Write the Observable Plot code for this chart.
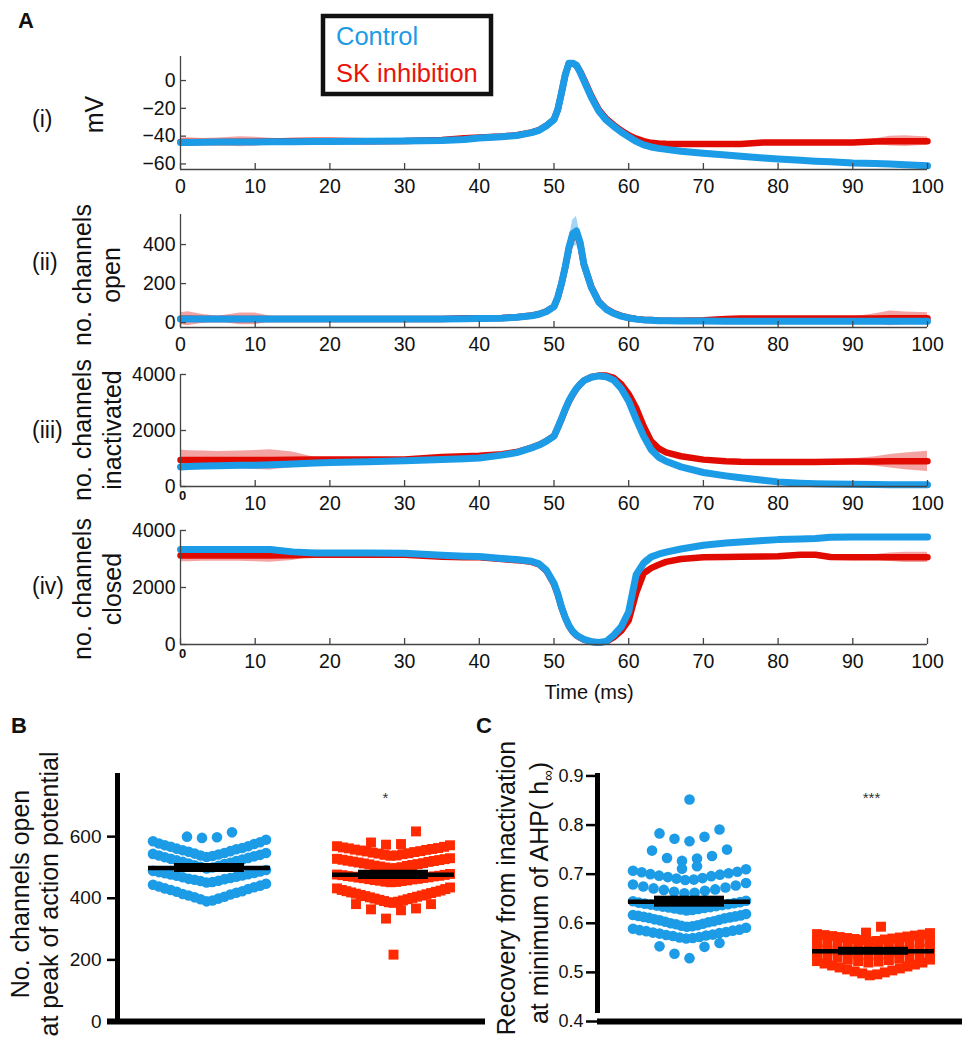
<!DOCTYPE html>
<html><head><meta charset="utf-8">
<script src="https://cdn.jsdelivr.net/npm/d3@7"></script>
<script src="https://cdn.jsdelivr.net/npm/@observablehq/plot@0.6"></script>
<style>
html,body{margin:0;padding:0;background:#fff;}
#root{position:relative;width:962px;height:1040px;overflow:hidden;font-family:"Liberation Sans",Arial,sans-serif;background:#fff;}
.panel{position:absolute;}
#overlay{position:absolute;left:0;top:0;pointer-events:none;}
</style></head><body><div id="root"></div>
<script>
// ---------- DATA ----------
const timeMs = [0,1,3,5,8,10,12,15,18,20, 25,30,35,38,40,43,45,47,48,49, 50,50.5,51,51.5,52,52.5,53,53.5,54,55, 56,57,58,59,60,61,62,63,64,65, 67,70,73,75,78,80,83,85,87,90, 93,95,97,100];
const timeTicks = [0,10,20,30,40,50,60,70,80,90,100];

const vmControl = [-44.5,-44.5,-44.4,-44.3,-44.2,-44.2,-44.1,-44.0,-43.9,-43.8, -43.6,-43.5,-43.2,-42.4,-41.4,-40.4,-39.6,-37.5,-35.8,-32.5, -28,-21,-9,4,12.5,12.5,11,6,0,-12, -22,-28.5,-33,-37,-40.5,-43.8,-46.3,-47.8,-48.8,-49.5, -50.8,-52.3,-53.6,-54.5,-55.7,-56.4,-57.4,-58,-58.5,-59.3, -59.7,-60.1,-60.6,-61.3];
const vmSK = [-44.3,-44.3,-44.2,-44.2,-44.1,-44.0,-43.8,-43.5,-43.4,-43.4, -43.6,-43.5,-42.8,-41.6,-41.0,-40.2,-39.4,-37.3,-35.6,-32.3, -28,-21,-9,4,12.3,12.3,11,6.5,1,-11, -21,-27.5,-32,-36,-39.3,-41.8,-43.6,-44.8,-45.3,-45.5, -45.6,-45.6,-45.6,-45.6,-44.6,-44.6,-44.6,-44.6,-44.6,-44.6, -43.8,-43.6,-43.6,-43.6];
const vmControlSd = [0.6,0.6,0.5,0.5,0.5,0.5,0.5,0.5,0.5,0.5, 0.5,0.5,0.5,0.5,0.5,0.5,0.5,0.5,0.5,0.5, 0.8,0.8,0.8,0.8,0.8,0.8,0.8,0.8,0.8,0.8, 0.6,0.6,0.6,0.6,0.6,0.6,0.6,0.6,0.7,0.8, 1,1.2,1.4,1.5,1.5,1.4,1.3,1.2,1.0,0.9, 0.8,0.8,0.8,0.9];
const vmSKSd = [3,3.2,2.5,2.8,3.6,3.2,2.2,1.5,0.8,0.4, 0.4,0.4,0.4,0.4,0.4,0.4,0.4,0.4,0.4,0.4, 0.6,0.6,0.6,0.6,0.6,0.6,0.6,0.6,0.6,0.6, 0.5,0.5,0.5,0.5,0.5,0.5,0.5,0.5,0.5,0.5, 0.4,0.4,0.4,0.4,0.4,0.4,0.4,0.4,0.5,0.8, 2,3.5,3.8,3];

const openControl = [18,18,18,18,18,18,18,18,18,18, 18,18,19,20,21,23,27,35,43,57, 82,130,200,285,385,455,470,410,300,180, 105,68,47,33,24,18,14,12,10,9, 8,8,7,7,7,7,7,7,7,7, 7,7,7,7];
const openSK = [20,20,19,19,19,19,19,18,18,18, 18,18,19,23,23,24,28,36,44,58, 82,128,198,282,380,448,462,405,298,182, 108,70,49,35,25,19,15,13,11,10, 10,12,19,21,21,21,21,21,21,21, 21,22,22,22];
const openControlSd = [4,3,3,3,3,3,3,3,3,3, 3,3,3,3,3,3,3,3,3,4, 6,10,15,25,45,70,75,45,20,10, 6,4,3,3,3,3,3,3,3,3, 3,3,3,3,3,3,3,3,3,3, 3,3,3,3];
const openSKSd = [30,36,22,14,30,30,14,4,3,3, 3,3,3,3,3,3,3,3,3,4, 6,10,15,20,25,25,25,20,15,10, 6,4,3,3,3,3,3,3,3,3, 3,3,3,3,3,3,3,3,4,8, 25,38,32,28];

const inactControl = [700,710,730,745,755,760,775,800,835,860, 880,920,960,990,1020,1120,1210,1380,1480,1620, 1800,2100,2420,2760,3060,3300,3500,3650,3780,3900, 3950,3920,3800,3500,3050,2400,1800,1320,1050,900, 700,500,380,310,220,165,120,100,90,80, 70,65,60,60];
const inactSK = [950,950,950,950,950,950,950,955,960,960, 960,965,1050,1080,1095,1150,1230,1390,1490,1630, 1800,2090,2400,2740,3040,3280,3490,3650,3780,3910, 3960,3960,3880,3650,3300,2800,2150,1620,1360,1220, 1080,960,900,880,875,875,875,875,880,890, 895,900,900,900];
const inactControlSd = [60,50,50,50,50,50,50,50,40,40, 40,40,40,40,40,40,40,40,40,40, 40,40,40,40,40,40,40,40,40,40, 40,60,100,140,160,170,160,140,100,80, 60,50,40,40,40,40,40,40,40,40, 40,40,40,40];
const inactSKSd = [350,330,320,300,320,340,360,280,80,40, 40,40,40,40,40,40,40,40,40,40, 40,40,40,40,40,40,40,40,40,40, 40,40,40,40,40,40,40,40,40,40, 40,40,40,40,40,40,40,50,60,100, 170,240,300,360];

const closedControl = [3330,3330,3330,3330,3330,3330,3330,3250,3210,3210, 3210,3200,3130,3100,3090,3020,2980,2920,2830,2600, 2150,1780,1320,950,660,460,330,250,180,100, 70,110,330,620,1150,2450,2850,3070,3170,3240, 3350,3480,3560,3600,3650,3680,3700,3720,3760,3770, 3770,3770,3770,3770];
const closedSK = [3120,3120,3120,3120,3120,3120,3120,3130,3150,3150, 3150,3150,3080,3060,3060,3000,2960,2900,2810,2580, 2120,1760,1300,940,650,450,320,240,170,95, 65,100,256,480,850,1800,2500,2680,2800,2900, 3000,3060,3070,3080,3090,3100,3150,3150,3070,3060, 3060,3060,3060,3060];
const closedControlSd = [60,50,50,50,50,50,50,50,40,40, 40,40,40,40,40,40,40,40,40,40, 40,40,40,40,40,40,40,40,40,40, 40,40,40,60,120,180,170,120,80,60, 50,40,40,40,40,40,40,40,40,40, 40,40,40,40];
const closedSKSd = [220,220,200,200,200,220,230,180,60,40, 40,40,40,40,40,40,40,40,40,40, 40,40,40,40,40,40,40,40,40,40, 40,40,40,40,40,40,40,40,40,40, 40,40,40,40,40,40,40,40,40,60, 100,150,180,180];

// Panel B: no. channels open at AP peak (rows of the column scatter)
const openPeakControlRows = [
  [596, 598, 600, 614],
  [534, 537, 539, 542, 545, 547, 551, 553, 556, 559, 561, 563, 567, 569, 572, 576, 578, 582, 585, 590],
  [497, 500, 502, 505, 507, 511, 513, 515, 518, 521, 523, 526, 528, 531, 533, 536, 539, 541, 544, 547],
  [451, 453, 456, 457, 460, 462, 463, 466, 468, 470, 473, 474, 477, 478, 481, 482, 485, 487, 489, 492],
  [390, 393, 397, 399, 403, 405, 409, 412, 414, 418, 421, 423, 427, 430, 432, 436, 438, 441, 444, 447]
];
const openPeakSKRows = [
  [574, 576, 581, 617],
  [538, 539, 541, 543, 545, 546, 548, 550, 552, 553, 555, 557, 558, 560, 562, 563, 565, 567, 569, 572],
  [497, 498, 500, 501, 503, 505, 506, 508, 510, 511, 513, 514, 516, 518, 519, 521, 522, 524, 525, 527, 528, 530],
  [452, 453, 454, 456, 457, 458, 459, 461, 462, 463, 465, 466, 467, 468, 470, 471, 472, 473, 475, 476, 477, 479],
  [385, 387, 389, 391, 393, 395, 397, 399, 401, 403, 405, 407, 409, 411, 413, 415, 417, 419, 421, 423, 425, 427, 430, 432, 435],
  [334, 361, 364, 367, 381, 381],
  [217]
];
// Panel C: recovery from inactivation (h-infinity) at AHP minimum
const hInfControlRows = [
  [0.852],
  [0.767, 0.772, 0.776, 0.783, 0.791],
  [0.727, 0.732, 0.733, 0.737, 0.748, 0.750],
  [0.711, 0.716],
  [0.688, 0.689, 0.691, 0.692, 0.694, 0.696, 0.697, 0.699, 0.700, 0.702, 0.704, 0.705, 0.707, 0.710],
  [0.661, 0.662, 0.664, 0.666, 0.668, 0.669, 0.671, 0.673, 0.675, 0.677, 0.679, 0.682],
  [0.626, 0.627, 0.628, 0.629, 0.630, 0.631, 0.632, 0.633, 0.634, 0.635, 0.636, 0.637, 0.638, 0.639, 0.640, 0.641, 0.642, 0.643, 0.645, 0.646],
  [0.593, 0.594, 0.595, 0.596, 0.598, 0.599, 0.600, 0.602, 0.603, 0.604, 0.606, 0.607, 0.608, 0.610, 0.611, 0.612, 0.613, 0.614, 0.615, 0.616, 0.617, 0.619],
  [0.569, 0.570, 0.571, 0.572, 0.574, 0.575, 0.576, 0.577, 0.579, 0.580, 0.581, 0.582, 0.584, 0.585, 0.586, 0.587, 0.589, 0.591],
  [0.529, 0.538, 0.552, 0.553, 0.560]
];
const hInfSKRows = [
  [0.581, 0.593],
  [0.563, 0.564, 0.566, 0.567, 0.568, 0.569, 0.570, 0.571, 0.572, 0.573, 0.574, 0.575, 0.576, 0.577, 0.578, 0.580],
  [0.549, 0.550, 0.552, 0.553, 0.555, 0.556, 0.558, 0.559, 0.560, 0.562, 0.563, 0.565],
  [0.535, 0.536, 0.538, 0.539, 0.541, 0.542, 0.544, 0.545, 0.547, 0.548, 0.550, 0.551],
  [0.520, 0.522, 0.523, 0.525, 0.526, 0.528, 0.530, 0.531, 0.533, 0.534, 0.536, 0.538],
  [0.494, 0.496, 0.498, 0.500, 0.502, 0.504, 0.506, 0.508, 0.510, 0.512, 0.514, 0.516, 0.518, 0.520, 0.523, 0.526]
];
const openTicks = [0, 200, 400, 600];
const hInfTicks = [0.4, 0.5, 0.6, 0.7, 0.8, 0.9];

// ---------- STYLE ----------
const BLUE = "#1c9be6", RED_A = "#e10a00", RED_B = "#ff2a00";
const BLUE_SH = "#a3d5f4", RED_SH = "#f4a3a3", AX = "#444";
const FONT = '"Liberation Sans", Arial, sans-serif';
const root = document.getElementById("root");
const fmt = d => d < 0 ? "\u2212" + Math.abs(d) : String(d);

function place(node, left, top) {
  const div = document.createElement("div");
  div.className = "panel";
  div.style.left = left + "px"; div.style.top = top + "px";
  div.appendChild(node); root.appendChild(div);
}

function series(values, sd) {
  return timeMs.map((t, i) => ({t, v: values[i], lo: values[i] - sd[i], hi: values[i] + sd[i]}));
}

function tracePanel({top, frameH, domain, yTicks, ctrl, sk, ctrlSd, skSd, smallZero}) {
  const mt = 10, mb = 32, ml = 180, mr = 35, W = 962, frameW = W - ml - mr;
  const c = series(ctrl, ctrlSd), s = series(sk, skSd);
  const plot = Plot.plot({
    width: W, height: mt + frameH + mb,
    marginTop: mt, marginBottom: mb, marginLeft: ml, marginRight: mr,
    x: {domain: [0, 100], label: null}, y: {domain, label: null},
    style: {fontFamily: FONT, fontSize: "19.5px", color: "#111", background: "transparent", maxWidth: "none", overflow: "visible"},
    marks: [
      Plot.areaY(s, {x: "t", y1: "lo", y2: "hi", fill: RED_SH}),
      Plot.areaY(c, {x: "t", y1: "lo", y2: "hi", fill: BLUE_SH}),
      Plot.line(s, {x: "t", y: "v", stroke: RED_A, strokeWidth: 6.5}),
      Plot.line(c, {x: "t", y: "v", stroke: BLUE, strokeWidth: 7}),
      Plot.ruleX([0], {stroke: AX, strokeWidth: 1.3}),
      Plot.ruleY([domain[0]], {stroke: AX, strokeWidth: 1.3}),
      Plot.tickX(timeTicks, {x: d => d, insetTop: frameH - 6, stroke: AX, strokeWidth: 1.3}),
      Plot.tickY(yTicks, {y: d => d, insetRight: frameW - 6, stroke: AX, strokeWidth: 1.3}),
      Plot.axisX({ticks: timeTicks, tickSize: 0, tickPadding: 10, fontSize: 19.5, label: null,
        tickFormat: d => (smallZero && d === 0) ? "" : fmt(d)}),
      Plot.axisY({ticks: yTicks, tickSize: 0, tickPadding: 5, fontSize: 19.5, label: null, tickFormat: fmt}),
      smallZero ? Plot.text([0], {x: d => d, text: d => String(d), frameAnchor: "bottom", dy: 13, dx: 2, fontSize: 13, fontWeight: "bold", fill: "#111"}) : null
    ]
  });
  place(plot, 0, top - mt);
}

tracePanel({top: 56, frameH: 113, domain: [-64, 17.3], yTicks: [-60, -40, -20, 0], ctrl: vmControl, sk: vmSK, ctrlSd: vmControlSd, skSd: vmSKSd});
tracePanel({top: 214, frameH: 113, domain: [-25, 554], yTicks: [0, 200, 400], ctrl: openControl, sk: openSK, ctrlSd: openControlSd, skSd: openSKSd});
tracePanel({top: 374, frameH: 112, domain: [0, 4000], yTicks: [0, 2000, 4000], ctrl: inactControl, sk: inactSK, ctrlSd: inactControlSd, skSd: inactSKSd, smallZero: true});
tracePanel({top: 530, frameH: 114, domain: [0, 4000], yTicks: [0, 2000, 4000], ctrl: closedControl, sk: closedSK, ctrlSd: closedControlSd, skSd: closedSKSd, smallZero: true});

// ---------- column scatter layout (Prism-like: each row spread centre-out by rank) ----------
const FRAME_W = 368, UPX = 2 / FRAME_W, ROW_W = 113, MAX_SP = 15;
function swarm(rows, group) {
  const out = [];
  for (const row of rows) {
    const vals = [...row].sort((a, b) => a - b), n = vals.length;
    const sp = n > 1 ? Math.min(MAX_SP, ROW_W / (n - 1)) : 0;
    vals.forEach((v, i) => {
      let pos;
      if (n % 2) { const k = Math.ceil(i / 2); pos = i === 0 ? 0 : (i % 2 ? -k : k); }
      else { const k = Math.floor(i / 2) + 0.5; pos = i % 2 ? k : -k; }
      out.push({x: group + pos * sp * UPX, y: v});
    });
  }
  return out;
}
function stats(rows) {
  const all = rows.flat();
  return {m: d3.mean(all), sem: d3.deviation(all) / Math.sqrt(all.length)};
}
function meanMarks(rows, g) {
  const st = stats(rows);
  return [
    Plot.ruleY([st], {y: "m", x1: () => g - 61 * UPX, x2: () => g + 61 * UPX, stroke: "#000", strokeWidth: 4.5}),
    Plot.rect([st], {x1: () => g - 32.5 * UPX, x2: () => g + 32.5 * UPX, y1: d => d.m - d.sem, y2: d => d.m + d.sem, fill: "#000", stroke: "#000", strokeWidth: 5})
  ];
}
function scatterPanel({left, domain, ticks, ctrlRows, skRows, tickSize, tickPadding, fontSize, fmtTick, stars, starDx, axisInsetLeft, yAxisInsetBottom}) {
  const mt = 10, mb = 16, frameH = 248;
  const plot = Plot.plot({
    width: 117 + FRAME_W, height: mt + frameH + mb,
    marginTop: mt, marginBottom: mb, marginLeft: 117, marginRight: 0,
    x: {domain: [0, 2], label: null}, y: {domain, label: null},
    style: {fontFamily: FONT, fontSize: fontSize + "px", color: "#111", background: "transparent", maxWidth: "none", overflow: "visible"},
    marks: [
      Plot.dot(swarm(ctrlRows, 0.5), {x: "x", y: "y", r: 5.3, fill: BLUE}),
      Plot.dot(swarm(skRows, 1.5), {x: "x", y: "y", r: 5.6, symbol: "square", fill: RED_B}),
      ...meanMarks(ctrlRows, 0.5),
      ...meanMarks(skRows, 1.5),
      Plot.ruleX([0], {stroke: "#000", strokeWidth: 5, insetBottom: yAxisInsetBottom}),
      Plot.ruleY([domain[0]], {stroke: "#000", strokeWidth: 6, insetLeft: axisInsetLeft}),
      Plot.axisY({ticks, tickSize, tickPadding, stroke: "#000", strokeWidth: 2.5, fontSize, label: null, tickFormat: fmtTick}),
      Plot.axisX({ticks: [], label: null}),
      Plot.text([stars], {x: () => 1.5, text: d => d, frameAnchor: "top", dy: 19, dx: starDx, fontSize: 15, fill: "#333"})
    ]
  });
  place(plot, left, 773 - mt);
}
scatterPanel({left: 0, domain: [0, 805], ticks: openTicks, ctrlRows: openPeakControlRows, skRows: openPeakSKRows,
  tickSize: 10, tickPadding: 6, fontSize: 19, fmtTick: d => String(d), stars: "*", starDx: -8, axisInsetLeft: -10, yAxisInsetBottom: 0});
scatterPanel({left: 480, domain: [0.4, 0.905], ticks: hInfTicks, ctrlRows: hInfControlRows, skRows: hInfSKRows,
  tickSize: 11, tickPadding: 3, fontSize: 18, fmtTick: d => d.toFixed(1), stars: "***", starDx: -2, axisInsetLeft: 0, yAxisInsetBottom: 8});

// ---------- labels, legend ----------
const t = (x, y, s, size, extra = "") => `<text x="${x}" y="${y}" font-size="${size}" ${extra}>${s}</text>`;
const r = (x, y, s, size) => `<text transform="translate(${x},${y}) rotate(-90)" text-anchor="middle" font-size="${size}">${s}</text>`;
const ov = `
<svg id="overlay" width="962" height="1040" font-family='${FONT}' fill="#111">
  ${t(18, 28, "A", 22, 'font-weight="bold"')}
  ${t(32, 127, "(i)", 23)}
  ${t(32, 270, "(ii)", 23)}
  ${t(32, 438, "(iii)", 23)}
  ${t(32, 594, "(iv)", 23)}
  ${r(103, 114.5, "mV", 25)}
  ${r(91, 275, "no. channels", 25)}${r(120, 275, "open", 25)}
  ${r(91, 430, "no. channels", 25)}${r(121, 430, "inactivated", 25)}
  ${r(91, 589, "no. channels", 25)}${r(121, 589, "closed", 25)}
  ${t(589, 699, "Time (ms)", 20, 'text-anchor="middle"')}
  ${t(11, 733, "B", 22, 'font-weight="bold"')}
  ${t(476, 733, "C", 22, 'font-weight="bold"')}
  ${r(29, 894, "No. channels open", 25)}
  ${r(58, 894, "at peak of action potential", 25)}
  ${r(515, 888, "Recovery from inactivation", 25)}
  <text transform="translate(548,893) rotate(-90)" text-anchor="middle" font-size="25">at minimum of AHP( h<tspan font-size="15" dy="5">∞</tspan><tspan dy="-5">)</tspan></text>
  <rect x="323" y="16" width="168" height="78" fill="none" stroke="#111" stroke-width="4.5"/>
  ${t(336, 45, "Control", 25.5, `fill="${BLUE}"`)}
  ${t(336, 82, "SK inhibition", 25.5, 'fill="#e8140c"')}
</svg>`;
root.insertAdjacentHTML("beforeend", ov);
</script></body></html>
